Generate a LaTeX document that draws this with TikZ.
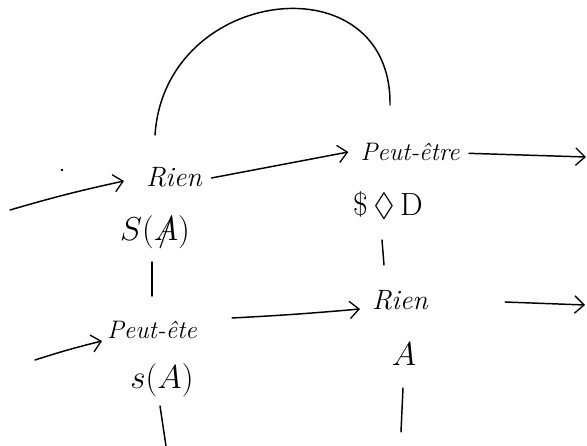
\documentclass[tikz,border=0pt]{standalone}
\usepackage{amssymb}
\usetikzlibrary{arrows.meta}
\tikzset{
  lbl/.style={inner sep=1pt, font=\fontsize{21}{25}\selectfont\itshape},
  sym/.style={inner sep=1pt, font=\fontsize{24}{28}\selectfont},
  hand/.style={line width=1.1pt, line cap=round},
  arr/.style={hand, -{Straight Barb[length=7pt,width=13pt,line width=1pt]}},
}
\newcommand{\barA}{\ooalign{$A$\cr\hidewidth$/$\hidewidth\cr}}
\begin{document}
\begin{tikzpicture}[x=0.75pt,y=-0.75pt]
\useasboundingbox (0,0) rectangle (587,446);
% nodes
\node[lbl] (rien1) at (174,177) {Rien};
\node[sym] (SA) at (155,232) {$S(\barA)$};
\node[lbl, font=\fontsize{19}{23}\selectfont\itshape] (pe1) at (410,152) {Peut-être};
\node[sym] (SD) at (388,205) {\$$\,\Diamond\,$D};
\node[lbl] (rien2) at (400,300) {Rien};
\node[sym] (A) at (404,354) {$A$};
\node[lbl, font=\fontsize{19}{23}\selectfont\itshape] (pe2) at (152,330) {Peut-ête};
\node[sym] (sA) at (162,380) {$s(A)$};
% free ends
\coordinate (in1) at (10,210);
\coordinate (in2) at (35,360);
\coordinate (out1) at (586,157);
\coordinate (out2) at (585,305);
\coordinate (arcL) at (155,135);
\coordinate (arcR) at (390,105);
\coordinate (tickA1) at (403,388);
\coordinate (tickA2) at (401,432);
\coordinate (ticks1) at (160,406);
\coordinate (ticks2) at (166,446);
% dot
\fill (62,170) circle (1.4);
% arrows
\draw[arr] (in1) to[bend left=2] (124,181);
\draw[arr] (rien1.east) ++(8,1) -- ([xshift=-8pt]pe1.west);
\draw[arr] ([xshift=6pt,yshift=-1pt]pe1.east) -- (out1);
\draw[arr] (in2) to[bend left=2] (102,341);
\draw[arr] (232,318) to[bend left=-1] (360,309);
\draw[arr] (505,302) -- (out2);
% arc
\draw[hand] (arcL) .. controls (165,-15) and (392,-40) .. (arcR);
% vertical ticks
\draw[hand] (152,262) -- (152,296);
\draw[hand] (382,240) -- (384,265);
\draw[hand] (tickA1) -- (tickA2);
\draw[hand] (ticks1) -- (ticks2);
\end{tikzpicture}
\end{document}
